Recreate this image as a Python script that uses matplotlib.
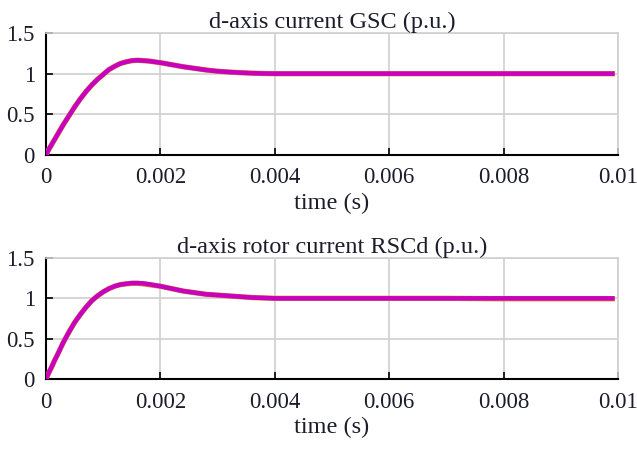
import matplotlib.pyplot as plt

plt.rcParams['font.family'] = ['Liberation Serif', 'DejaVu Serif']

# time samples (s)
t = [0, 0.00005, 0.0001, 0.00015, 0.0002, 0.0003, 0.0004, 0.0005, 0.0006, 0.0007,
     0.0008, 0.0009, 0.0010, 0.0011, 0.0012, 0.0013, 0.0014, 0.0015, 0.0016,
     0.0017, 0.0018, 0.0020, 0.0022, 0.0024, 0.0026, 0.0028, 0.0030, 0.0032,
     0.0034, 0.0036, 0.0038, 0.0040, 0.0050, 0.0060, 0.0070, 0.0080, 0.0090,
     0.0099]

# GSC d-axis current: reference and response
gsc_ref = [0, 0.07, 0.13, 0.19, 0.25, 0.37, 0.48, 0.59, 0.69, 0.78,
           0.86, 0.93, 0.99, 1.05, 1.09, 1.125, 1.145, 1.16, 1.165,
           1.16, 1.155, 1.135, 1.11, 1.085, 1.065, 1.045, 1.03, 1.02,
           1.012, 1.006, 1.002, 1.0, 1.0, 1.0, 1.0, 1.0, 1.0,
           1.0]
gsc_out = [0, 0.07, 0.13, 0.19, 0.25, 0.37, 0.48, 0.59, 0.69, 0.78,
           0.86, 0.93, 0.99, 1.05, 1.09, 1.125, 1.145, 1.16, 1.165,
           1.16, 1.155, 1.135, 1.11, 1.085, 1.065, 1.045, 1.03, 1.02,
           1.012, 1.006, 1.002, 1.0, 1.0, 1.0, 1.0, 1.0, 1.0,
           1.0]

# RSC d-axis rotor current: reference and response
rsc_ref = [0, 0.08, 0.15, 0.23, 0.30, 0.45, 0.58, 0.70, 0.80, 0.89,
           0.97, 1.03, 1.08, 1.12, 1.15, 1.17, 1.18, 1.185, 1.185,
           1.18, 1.17, 1.15, 1.12, 1.09, 1.07, 1.05, 1.04, 1.03,
           1.02, 1.01, 1.005, 1.0, 1.0, 1.0, 1.0, 0.995, 0.995,
           0.995]
rsc_out = [0, 0.08, 0.15, 0.23, 0.30, 0.45, 0.58, 0.70, 0.80, 0.89,
           0.97, 1.03, 1.08, 1.12, 1.15, 1.17, 1.18, 1.19, 1.19,
           1.185, 1.175, 1.15, 1.12, 1.09, 1.07, 1.05, 1.04, 1.03,
           1.02, 1.01, 1.005, 1.0, 1.0, 1.0, 1.0, 1.0, 1.0,
           1.0]

titles = ['d-axis current GSC (p.u.)', 'd-axis rotor current RSCd (p.u.)']
xticks = [0, 0.002, 0.004, 0.006, 0.008, 0.01]
xticklabels = ['0', '0.002', '0.004', '0.006', '0.008', '0.01']
yticks = [0, 0.5, 1, 1.5]
yticklabels = ['0', '0.5', '1', '1.5']

txt = '#1c1c2c'
fig = plt.figure(figsize=(6.37, 4.49), dpi=100)
ax1 = fig.add_axes([0.0722, 0.6548, 0.898, 0.2717])
ax2 = fig.add_axes([0.0722, 0.1559, 0.898, 0.2695])

for ax, ref, out, title in [(ax1, gsc_ref, gsc_out, titles[0]),
                            (ax2, rsc_ref, rsc_out, titles[1])]:
    ax.plot(t, ref, color='#d9822b', lw=3.8, zorder=3)
    ax.plot(t, out, color='#c800c0', lw=3.2, zorder=4)
    ax.set_xlim(0, 0.01)
    ax.set_ylim(0, 1.5)
    ax.set_xticks(xticks)
    ax.set_xticklabels(xticklabels)
    ax.set_yticks(yticks)
    ax.set_yticklabels(yticklabels)
    ax.grid(True, color='#d0d0d0', lw=1.2)
    ax.set_axisbelow(True)
    ax.tick_params(direction='in', length=5, width=1.2, colors='black',
                   labelcolor=txt, labelsize=16.5)
    ax.tick_params(axis='x', pad=9)
    ax.tick_params(axis='y', pad=8)
    for s in ['top', 'right']:
        ax.spines[s].set_color('#d0d0d0')
        ax.spines[s].set_linewidth(1.2)
    for s in ['left', 'bottom']:
        ax.spines[s].set_color('black')
        ax.spines[s].set_linewidth(1.5)
    ax.set_title(title, fontsize=17.5, color=txt, pad=3)
    ax.set_xlabel('time (s)', fontsize=17.5, color=txt, labelpad=3)

fig.savefig('out.png', dpi=100)
